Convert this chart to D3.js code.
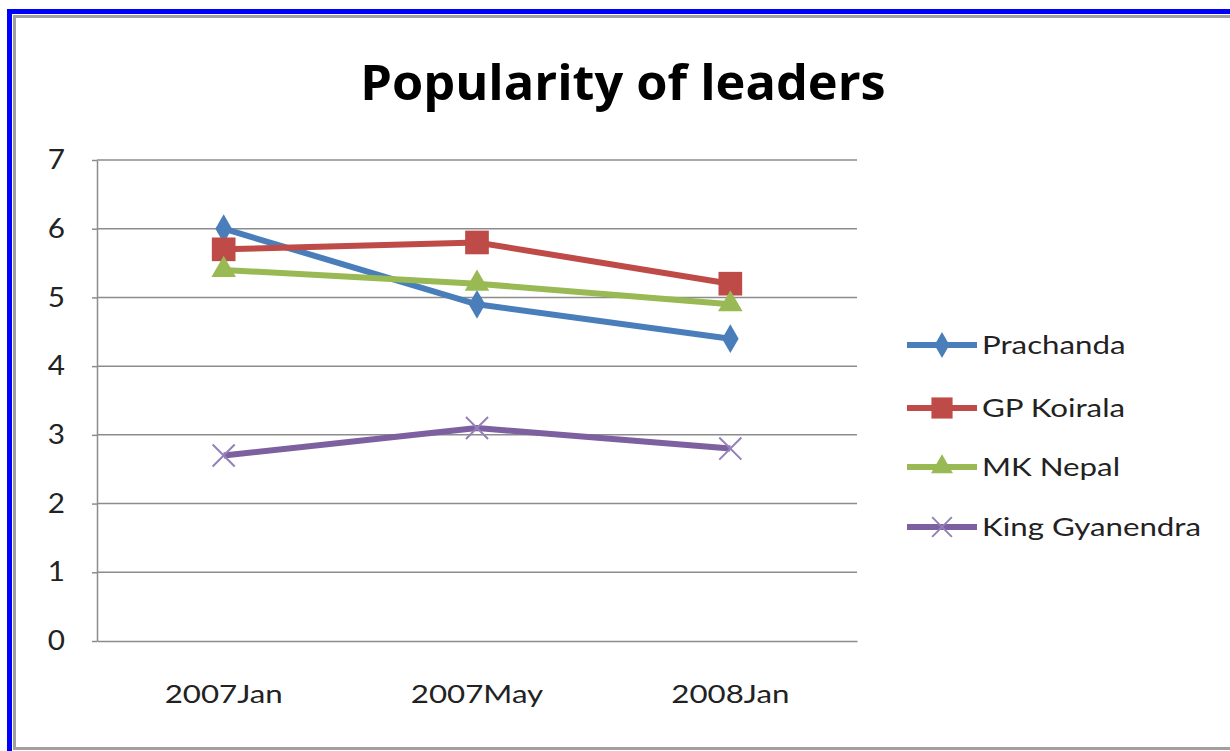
<!doctype html>
<html lang="en">
<head>
	<meta charset="UTF-8">
	<title>Popularity of leaders</title>
	<style>
		body { margin: 0; background: #fff; }
		svg { display: block; }
		.grid line { stroke: #8c8c8c; stroke-width: 1.5; }
		.axis text { font-family: Lato, "Open Sans", sans-serif; font-size: 25px; fill: #222; }
		.axis path, .axis line { stroke: #8c8c8c; stroke-width: 1.5; }
		.legend text { font-family: Lato, "Open Sans", sans-serif; font-size: 25px; fill: #222; }
	</style>
	<script src="https://cdn.jsdelivr.net/npm/d3@7/dist/d3.min.js"></script>
</head>
<body>
<svg width="1230" height="751"></svg>
<script>
// data
var categories = ['2007Jan', '2007May', '2008Jan'];
var seriesNames = ['Prachanda', 'GP Koirala', 'MK Nepal', 'King Gyanendra'];
var prachanda = [6.0, 4.9, 4.4];
var koirala = [5.7, 5.8, 5.2];
var nepal = [5.4, 5.2, 4.9];
var gyanendra = [2.7, 3.1, 2.8];
var yTicks = [0, 1, 2, 3, 4, 5, 6, 7];

var colors = ['#4a7ebb', '#be4b48', '#98b954', '#7d60a0'];
var symbols = [d3.symbolDiamond, d3.symbolSquare, d3.symbolTriangle, d3.symbolX];
var symSizes = [240, 560, 260, 320];
var values = [prachanda, koirala, nepal, gyanendra];

var svg = d3.select('svg');

// the original picture is a bit stretched sideways, widen the text to match
function stretch(sel, k) {
	sel.each(function() {
		var w = this.getComputedTextLength();
		d3.select(this).attr('textLength', w * k).attr('lengthAdjust', 'spacingAndGlyphs');
	});
}

// frame
svg.append('rect').attr('x', 14.5).attr('y', 16.5).attr('width', 1230).attr('height', 732)
	.attr('fill', 'none').attr('stroke', '#a0a0a0').attr('stroke-width', 3);
svg.append('line').attr('x1', 9.5).attr('x2', 9.5).attr('y1', 9).attr('y2', 751)
	.attr('stroke', '#0000ff').attr('stroke-width', 5);
svg.append('line').attr('x1', 7).attr('x2', 1230).attr('y1', 11.5).attr('y2', 11.5)
	.attr('stroke', '#0000ff').attr('stroke-width', 5);

var title = svg.append('text')
	.attr('x', 623).attr('y', 100)
	.attr('text-anchor', 'middle')
	.attr('font-family', '"Open Sans", sans-serif')
	.attr('font-weight', 'bold')
	.attr('font-size', 49)
	.attr('fill', '#000')
	.text('Popularity of leaders');
stretch(title, 1.03);

var margin = {left: 97, top: 160, right: 857, bottom: 641};

var x = d3.scaleBand().domain(categories).range([margin.left, margin.right]);
var y = d3.scaleLinear().domain([0, 7]).range([margin.bottom, margin.top]);

// gridlines
svg.append('g').attr('class', 'grid')
	.selectAll('line').data(yTicks.slice(1)).join('line')
	.attr('x1', margin.left).attr('x2', margin.right)
	.attr('y1', function(d) { return y(d); }).attr('y2', function(d) { return y(d); });

var yAxis = svg.append('g').attr('class', 'axis')
	.attr('transform', 'translate(' + margin.left + ',0)')
	.call(d3.axisLeft(y).tickValues(yTicks).tickFormat(d3.format('d'))
		.tickSize(5).tickSizeOuter(0).tickPadding(27));
yAxis.selectAll('text').style('font-size', '27px');
stretch(yAxis.selectAll('text'), 1.1);

var xAxis = svg.append('g').attr('class', 'axis')
	.attr('transform', 'translate(0,' + margin.bottom + ')')
	.call(d3.axisBottom(x).tickSize(0).tickPadding(44));
stretch(xAxis.selectAll('text'), 1.25);

var line = d3.line()
	.x(function(d, i) { return x(categories[i]) + x.bandwidth() / 2; })
	.y(function(d) { return y(d); });

values.forEach(function(vals, s) {
	var g = svg.append('g');
	g.append('path')
		.datum(vals)
		.attr('fill', 'none')
		.attr('stroke', colors[s])
		.attr('stroke-width', 6)
		.attr('stroke-linejoin', 'round')
		.attr('d', line);
	g.selectAll('path.m').data(vals).join('path')
		.attr('class', 'm')
		.attr('transform', function(d, i) {
			return 'translate(' + (x(categories[i]) + x.bandwidth() / 2) + ',' + y(d) + ')';
		})
		.attr('d', d3.symbol().type(symbols[s]).size(symSizes[s]))
		.attr('fill', colors[s])
		.attr('stroke', s === 3 ? '#9580b8' : 'none')
		.attr('stroke-width', 2);
});

// legend
var legendY = [345, 408, 467, 527];
var legend = svg.append('g').attr('class', 'legend');
seriesNames.forEach(function(name, s) {
	var ly = legendY[s];
	legend.append('line')
		.attr('x1', 907).attr('x2', 977).attr('y1', ly).attr('y2', ly)
		.attr('stroke', colors[s]).attr('stroke-width', 6);
	legend.append('path')
		.attr('transform', 'translate(942,' + ly + ')')
		.attr('d', d3.symbol().type(symbols[s]).size(symSizes[s] * 0.8))
		.attr('fill', colors[s])
		.attr('stroke', s === 3 ? '#9580b8' : 'none')
		.attr('stroke-width', 2);
	var t = legend.append('text')
		.attr('x', 982).attr('y', ly)
		.attr('dy', '0.36em')
		.text(name);
	stretch(t, 1.25);
});
</script>
</body>
</html>
